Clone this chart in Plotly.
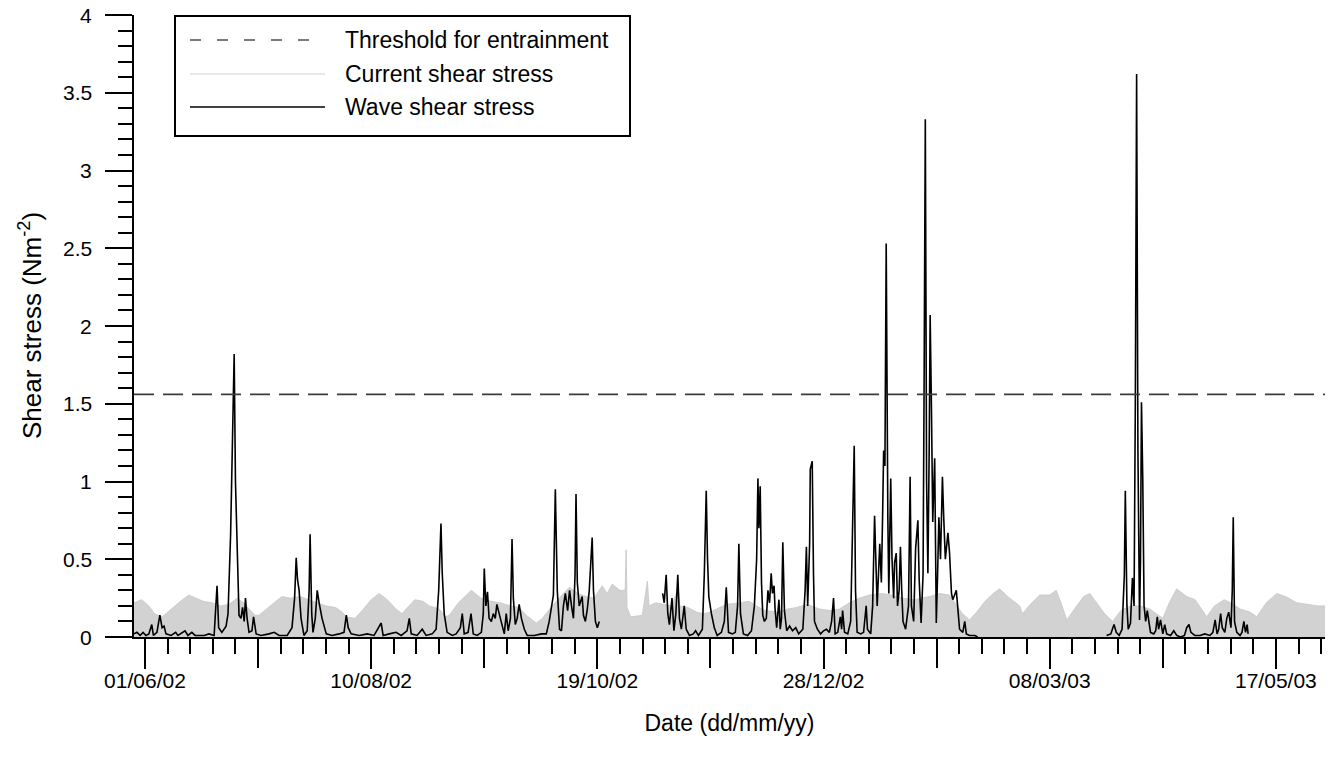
import plotly.graph_objects as go
import pandas as pd

# ---------------- data (days after 01/06/2002, shear stress in N m^-2) ----------------
THRESHOLD = 1.56

wave_day = [
    -3.4, -2.5, -1.5, -0.6, 0.3, 1.2, 2.1, 2.6, 3.7, 4.6, 5.3, 5.9, 6.5, 8.1, 9.5, 10.2, 12.4, 13.3,
    14.5, 15.5, 18.3, 19.8, 21.4, 22.3, 22.8, 23.8, 25.1, 25.7, 26.5, 26.9, 27.6, 28.0, 28.7, 29.1,
    29.7, 30.2, 30.7, 31.1, 31.6, 32.2, 33.1, 33.6, 34.4, 35.9, 38.4, 40.0, 41.5, 44.0, 45.5, 46.3,
    46.8, 47.2, 47.7, 48.3, 49.2, 50.2, 50.8, 51.1, 51.6, 52.0, 52.7, 53.3, 53.9, 54.8, 56.1, 57.9,
    60.1, 61.6, 62.3, 62.9, 63.8, 66.3, 68.8, 70.9, 73.1, 73.7, 75.6, 77.7, 79.3, 81.1, 81.8, 82.4,
    84.2, 85.8, 87.0, 88.9, 90.1, 90.9, 91.6, 92.0, 92.6, 93.5, 95.1, 96.3, 97.6, 98.2, 98.8, 100.0,
    100.9, 101.6, 102.8, 104.1, 104.7, 105.0, 105.5, 106.0, 106.5, 107.2, 107.8, 108.4, 108.9, 109.3,
    110.0, 110.6, 111.2, 111.8, 112.4, 113.1, 113.6, 114.0, 114.6, 115.2, 115.8, 116.5, 117.4, 118.3,
    120.5, 122.7, 124.2, 125.1, 125.8, 126.4, 127.0, 127.6, 128.3, 128.9, 129.5, 130.1, 130.8, 131.4,
    132.0, 132.6, 133.1, 133.4, 133.8, 134.4, 135.3, 135.7, 136.3, 136.9, 137.5, 138.4, 138.8, 139.4,
    140.0, 140.6,
    150.0,
    160.2, 160.7, 161.3, 161.8, 162.3, 163.1, 163.7, 164.3, 164.9, 165.4, 166.0, 166.9, 167.5, 168.5,
    169.7, 170.4, 171.3, 172.5, 173.1, 173.7, 174.1, 174.5, 175.3, 176.2, 177.1, 178.4, 179.3, 179.9,
    180.6, 181.8, 182.7, 183.4, 183.8, 184.3, 185.2, 186.5, 187.7, 188.6, 189.3, 189.7, 190.0, 190.4,
    190.8, 191.2, 191.7, 192.3, 192.8, 193.3, 193.8, 194.2, 194.7, 195.0, 195.5, 196.2, 196.6, 197.0,
    197.4, 197.9, 198.6, 199.5, 200.4, 201.4, 202.3, 203.6, 204.3, 204.7, 205.1, 205.7, 205.9, 206.5,
    206.9, 207.2, 208.1, 209.1, 210.0, 210.9, 211.8, 212.5, 213.1, 213.6, 214.4, 215.2, 215.6, 215.9,
    216.5, 217.5, 218.4, 218.9, 219.5, 219.9, 220.4, 221.5, 222.4, 223.2, 223.6, 224.6, 225.2, 225.8,
    226.3, 226.6, 227.4, 227.9, 228.3, 228.6, 229.0, 229.4, 229.9, 230.2, 230.8, 231.2, 231.7, 232.0,
    232.5, 232.9, 233.4, 233.8, 234.2, 234.6, 235.4, 236.3, 236.8, 237.2, 237.9, 238.5, 239.2, 239.6,
    240.2, 240.8, 241.1, 241.5, 241.9, 242.3, 242.7, 243.0, 243.4, 243.8, 244.4, 244.9, 245.3, 245.7,
    246.2, 246.8, 247.2, 247.7, 248.5, 249.0, 249.6, 250.0, 251.1, 251.7, 252.1, 253.1, 253.7, 254.2,
    255.2, 256.8, 257.7,
    270.0,
    297.6, 298.9, 299.9, 300.6, 301.5, 302.4, 303.1, 303.4, 303.9, 304.3, 305.0, 305.6, 306.1, 306.5,
    306.9, 307.3, 307.8, 308.1, 308.4, 308.8, 309.2, 309.7, 310.2, 310.6, 311.2, 312.2, 312.8, 313.3,
    313.7, 314.3, 315.0, 315.6, 316.2, 317.4, 318.4, 319.3, 320.5, 321.7, 322.4, 323.1, 323.7, 324.9,
    326.5, 328.0, 329.6, 330.5, 331.2, 331.8, 332.3, 332.9, 333.4, 334.2, 334.8, 335.4, 336.1, 336.5,
    336.8, 337.2, 337.9, 338.9, 339.5, 340.1, 340.6, 341.1, 341.4,
]
wave_val = [
    0.02, 0.03, 0.01, 0.03, 0.01, 0.02, 0.08, 0.01, 0.03, 0.14, 0.06, 0.07, 0.02, 0.01, 0.03, 0.01, 0.04, 0.01,
    0.03, 0.01, 0.01, 0.02, 0.01, 0.33, 0.06, 0.03, 0.07, 0.15, 0.66, 1.06, 1.82, 1.00, 0.35, 0.14,
    0.12, 0.19, 0.10, 0.25, 0.12, 0.03, 0.04, 0.13, 0.02, 0.01, 0.02, 0.03, 0.01, 0.01, 0.06, 0.25,
    0.51, 0.37, 0.30, 0.12, 0.01, 0.04, 0.30, 0.66, 0.15, 0.03, 0.12, 0.30, 0.22, 0.12, 0.02, 0.01,
    0.02, 0.03, 0.14, 0.06, 0.02, 0.01, 0.02, 0.01, 0.09, 0.01, 0.02, 0.03, 0.01, 0.04, 0.12, 0.02,
    0.01, 0.05, 0.01, 0.02, 0.05, 0.30, 0.73, 0.41, 0.15, 0.03, 0.01, 0.02, 0.06, 0.15, 0.02, 0.03,
    0.15, 0.02, 0.01, 0.03, 0.15, 0.44, 0.20, 0.29, 0.12, 0.10, 0.15, 0.12, 0.21, 0.18,
    0.12, 0.08, 0.02, 0.15, 0.04, 0.12, 0.63, 0.25, 0.08, 0.12, 0.21, 0.12, 0.05, 0.01,
    0.01, 0.02, 0.02, 0.10, 0.18, 0.27, 0.95, 0.30, 0.05, 0.04, 0.20, 0.28, 0.17, 0.30,
    0.20, 0.12, 0.40, 0.92, 0.35, 0.20, 0.26, 0.14, 0.10, 0.18, 0.30, 0.64, 0.30, 0.10,
    0.06, 0.10,
    None,
    0.28, 0.22, 0.40, 0.15, 0.08, 0.25, 0.04, 0.15, 0.40, 0.12, 0.05, 0.20, 0.05, 0.01,
    0.02, 0.04, 0.01, 0.05, 0.40, 0.94, 0.50, 0.26, 0.15, 0.06, 0.01, 0.03, 0.10, 0.32,
    0.03, 0.02, 0.03, 0.20, 0.60, 0.15, 0.02, 0.01, 0.04, 0.20, 0.50, 1.02, 0.70, 0.97,
    0.35, 0.14, 0.10, 0.12, 0.30, 0.22, 0.41, 0.28, 0.33, 0.18, 0.06, 0.24, 0.05, 0.12,
    0.61, 0.17, 0.04, 0.07, 0.04, 0.06, 0.02, 0.05, 0.30, 0.58, 0.20, 0.60, 1.08, 1.13,
    0.40, 0.10, 0.05, 0.02, 0.04, 0.05, 0.03, 0.10, 0.25, 0.02, 0.03, 0.13, 0.05, 0.17,
    0.03, 0.02, 0.10, 0.67, 1.23, 0.30, 0.03, 0.02, 0.03, 0.20, 0.05, 0.02, 0.20, 0.78,
    0.40, 0.20, 0.60, 0.35, 0.80, 1.20, 1.10, 2.53, 0.77, 0.28, 1.02, 0.50, 0.25, 0.48,
    0.54, 0.20, 0.30, 0.58, 0.30, 0.10, 0.05, 0.20, 1.03, 0.20, 0.10, 0.57, 0.75, 0.37,
    0.09, 0.40, 1.50, 3.33, 1.00, 0.41, 1.20, 2.07, 1.47, 0.74, 1.15, 0.09, 0.40, 0.77,
    0.50, 1.03, 0.77, 0.50, 0.67, 0.54, 0.28, 0.24, 0.30, 0.15, 0.05, 0.03, 0.10, 0.02,
    0.01, 0.01, 0.00,
    None,
    0.01, 0.02, 0.08, 0.03, 0.01, 0.05, 0.40, 0.94, 0.20, 0.05, 0.09, 0.38, 0.20, 1.50,
    3.62, 1.20, 0.11, 0.50, 1.51, 1.02, 0.20, 0.10, 0.17, 0.10, 0.03, 0.02, 0.04, 0.13,
    0.05, 0.11, 0.02, 0.08, 0.02, 0.01, 0.04, 0.01, 0.00, 0.01, 0.06, 0.08, 0.03, 0.01,
    0.01, 0.02, 0.01, 0.03, 0.11, 0.02, 0.05, 0.15, 0.06, 0.03, 0.12, 0.16, 0.06, 0.30,
    0.77, 0.10, 0.03, 0.01, 0.03, 0.10, 0.03, 0.08, 0.02,
]

# upper envelope of the (tidal) current shear stress band
current_day = [
    -3.4, -1.0, 1.2, 3.0, 5.3, 8.0, 11.0, 13.6, 15.8, 18.0, 20.8, 23.5, 26.0, 28.5, 30.5, 32.2, 34.0,
    35.3, 38.0, 40.5, 42.4, 45.0, 48.0, 50.5, 53.0, 56.0, 59.0, 61.0, 62.3, 65.0, 67.2, 70.0, 72.5,
    75.0, 77.7, 79.5, 80.8, 83.5, 86.0, 88.0, 91.1, 93.0, 94.2, 97.0, 99.5, 101.0, 104.0, 107.0,
    110.0, 113.0, 115.8, 118.0, 121.1, 123.0, 126.0, 129.0, 131.3, 134.0, 136.6, 139.0, 141.5,
    143.0, 144.6, 147.0, 148.6, 148.9, 149.2, 149.9, 150.5, 153.9, 155.5, 156.0, 158.0, 160.1,
    163.0, 165.0, 165.5, 168.0, 170.7, 173.0, 175.0, 176.9, 180.0, 184.0, 187.0, 189.2, 192.0,
    196.0, 199.0, 201.6, 205.0, 208.8, 212.0, 215.0, 218.0, 221.0, 224.2, 228.0, 231.0, 234.5,
    238.0, 242.8, 246.0, 249.0, 251.2, 253.0, 255.2, 257.4, 260.0, 262.5, 264.5, 267.0, 270.7,
    271.6, 274.0, 276.9, 280.0, 282.0, 283.5, 285.3, 288.0, 290.5, 292.4, 294.6, 297.0, 299.5,
    302.0, 305.0, 308.0, 311.0, 313.0, 315.0, 317.0, 319.3, 322.4, 325.0, 328.6, 331.0, 334.0,
    336.0, 339.0, 342.0, 344.1, 347.0, 350.3, 353.0, 356.5, 360.0, 363.0, 365.2,
]
current_val = [
    0.22, 0.24, 0.20, 0.15, 0.13, 0.18, 0.23, 0.27, 0.25, 0.23, 0.22, 0.20, 0.21, 0.25, 0.22, 0.18, 0.14,
    0.14, 0.19, 0.23, 0.26, 0.25, 0.26, 0.24, 0.22, 0.20, 0.19, 0.16, 0.13, 0.12, 0.17, 0.24, 0.28,
    0.24, 0.18, 0.15, 0.18, 0.24, 0.23, 0.20, 0.18, 0.13, 0.14, 0.22, 0.27, 0.30, 0.25, 0.23,
    0.22, 0.20, 0.19, 0.14, 0.09, 0.12, 0.20, 0.27, 0.32, 0.28, 0.26, 0.25, 0.33,
    0.28, 0.34, 0.30, 0.30, 0.56, 0.20, None, 0.13, 0.14, 0.36, 0.20, 0.22, 0.21,
    0.20, 0.31, 0.20, 0.19, 0.16, 0.15, 0.16, 0.18, 0.21, 0.22, 0.23, 0.20, 0.17,
    0.16, 0.18, 0.19, 0.21, 0.18, 0.17, 0.18, 0.22, 0.25, 0.27, 0.28, 0.27, 0.25,
    0.24, 0.26, 0.28, 0.27, 0.20, 0.15, 0.11, 0.16, 0.23, 0.28, 0.31, 0.26, 0.20,
    0.15, 0.21, 0.27, 0.27, 0.30, 0.22, 0.11, 0.19, 0.26, 0.28, 0.22, 0.15, 0.10,
    0.17, 0.20, 0.20, 0.18, 0.15, 0.12, 0.22, 0.31, 0.26, 0.24, 0.13, 0.20, 0.24,
    0.22, 0.18, 0.16, 0.13, 0.22, 0.28, 0.26, 0.22, 0.21, 0.20, 0.20,
]

# labelled long ticks (every 70 days) and unlabelled long ticks in between
tick_dates = ["2002-06-01", "2002-08-10", "2002-10-19", "2002-12-28", "2003-03-08", "2003-05-17"]
tick_labels = ["01/06/02", "10/08/02", "19/10/02", "28/12/02", "08/03/03", "17/05/03"]
mid_tick_dates = ["2002-07-06", "2002-09-14", "2002-11-23", "2003-02-01", "2003-04-12"]

y_tick_vals = [0, 0.5, 1, 1.5, 2, 2.5, 3, 3.5, 4]
y_tick_labels = ["0", "0.5", "1", "1.5", "2", "2.5", "3", "3.5", "4"]

legend_names = ["Threshold for entrainment", "Current shear stress", "Wave shear stress"]
y_title = "Shear stress (Nm<sup>-2</sup>)"
x_title = "Date (dd/mm/yy)"

# ---------------- helpers ----------------
ORIGIN = pd.Timestamp("2002-06-01")


def to_dates(days):
    return [ORIGIN + pd.Timedelta(days=d) for d in days]


X_START = ORIGIN + pd.Timedelta(days=-3.4)
X_END = ORIGIN + pd.Timedelta(days=365.2)

FONT = "Liberation Sans, Arial, sans-serif"
CURRENT_LINE = "rgb(198,198,198)"
CURRENT_FILL = "rgb(210,210,210)"
DASH_COLOR = "rgb(60,60,60)"

fig = go.Figure()

fig.add_trace(go.Scatter(
    x=to_dates(current_day), y=current_val, mode="lines", name=legend_names[1],
    line=dict(color=CURRENT_LINE, width=0.8), fill="tozeroy", fillcolor=CURRENT_FILL,
    connectgaps=False, showlegend=False, hoverinfo="skip"))

fig.add_trace(go.Scatter(
    x=to_dates(wave_day), y=wave_val, mode="lines", name=legend_names[2],
    line=dict(color="black", width=1.6), connectgaps=False, showlegend=False))

fig.add_trace(go.Scatter(
    x=[X_START, X_END], y=[THRESHOLD, THRESHOLD], mode="lines", name=legend_names[0],
    xaxis="x2",
    line=dict(color=DASH_COLOR, width=1.6, dash="20px,9px"), showlegend=False))

# ---------------- layout ----------------
L, R, T, B = 134, 10, 15, 124
W, H = 1335, 761
PW, PH = W - L - R, H - T - B


def px(xp):
    return (xp - L) / PW


def py(yp):
    return (H - B - yp) / PH


fig.update_layout(
    width=W, height=H, margin=dict(l=L, r=R, t=T, b=B, autoexpand=False),
    paper_bgcolor="white", plot_bgcolor="white",
    font=dict(family=FONT, size=21, color="black"),
    showlegend=False,
    xaxis=dict(
        type="date", range=[X_START, X_END],
        showgrid=False, zeroline=False, showline=True, linecolor="black", linewidth=2,
        tickmode="array", tickvals=tick_dates, ticktext=tick_labels,
        ticks="outside", ticklen=30, tickwidth=2, tickcolor="black",
        ticklabelstandoff=-6,
        tickfont=dict(family=FONT, size=21, color="black"),
        minor=dict(ticks="outside", ticklen=15, tickwidth=2, tickcolor="black",
                   tick0="2002-06-01", dtick=7 * 86400000, showgrid=False),
        title=dict(text=x_title, font=dict(family=FONT, size=23, color="black"), standoff=24),
    ),
    xaxis2=dict(
        type="date", range=[X_START, X_END], matches="x", overlaying="x", side="bottom",
        anchor="y", showgrid=False, zeroline=False, showline=False,
        tickmode="array", tickvals=mid_tick_dates, showticklabels=False,
        ticks="outside", ticklen=30, tickwidth=2, tickcolor="black",
    ),
    yaxis=dict(
        range=[0, 4], showgrid=False, zeroline=False, showline=True, linecolor="black", linewidth=2,
        tickmode="array", tickvals=y_tick_vals, showticklabels=False,
        ticks="outside", ticklen=27, tickwidth=2, tickcolor="black",
        minor=dict(ticks="outside", ticklen=14, tickwidth=2, tickcolor="black",
                   tick0=0, dtick=0.1, showgrid=False),
    ),
)

# y tick labels, right-aligned a little way left of the ticks
for v, lab in zip(y_tick_vals, y_tick_labels):
    fig.add_annotation(xref="paper", yref="y", x=px(94), y=v, text=lab, showarrow=False,
                       xanchor="right", yanchor="middle",
                       font=dict(family=FONT, size=21, color="black"))

# y-axis title
fig.add_annotation(xref="paper", yref="paper", x=px(30), y=0.5, text=y_title,
                   textangle=-90, showarrow=False, xanchor="center", yanchor="middle",
                   font=dict(family=FONT, size=26, color="black"))

# ---------------- legend box (drawn in paper coordinates) ----------------
box_x0, box_x1, box_y0, box_y1 = 175, 630, 16, 136
rows_y = [40, 74, 107]
line_x0, line_x1, text_x = 190, 325, 343

fig.add_shape(type="rect", xref="paper", yref="paper",
              x0=px(box_x0), x1=px(box_x1), y0=py(box_y1), y1=py(box_y0),
              line=dict(color="black", width=2), fillcolor="white", layer="above")

legend_styles = [
    dict(color="rgb(80,80,80)", width=1.6, dash="11px,16px"),
    dict(color="rgb(225,225,225)", width=1.4),
    dict(color="black", width=1.3),
]
for name, yrow, style in zip(legend_names, rows_y, legend_styles):
    fig.add_shape(type="line", xref="paper", yref="paper",
                  x0=px(line_x0), x1=px(line_x1), y0=py(yrow), y1=py(yrow),
                  line=style, layer="above")
    fig.add_annotation(xref="paper", yref="paper", x=px(text_x), y=py(yrow),
                       text=name, showarrow=False, xanchor="left", yanchor="middle",
                       font=dict(family=FONT, size=23, color="black"))

fig.write_html("out.html")
